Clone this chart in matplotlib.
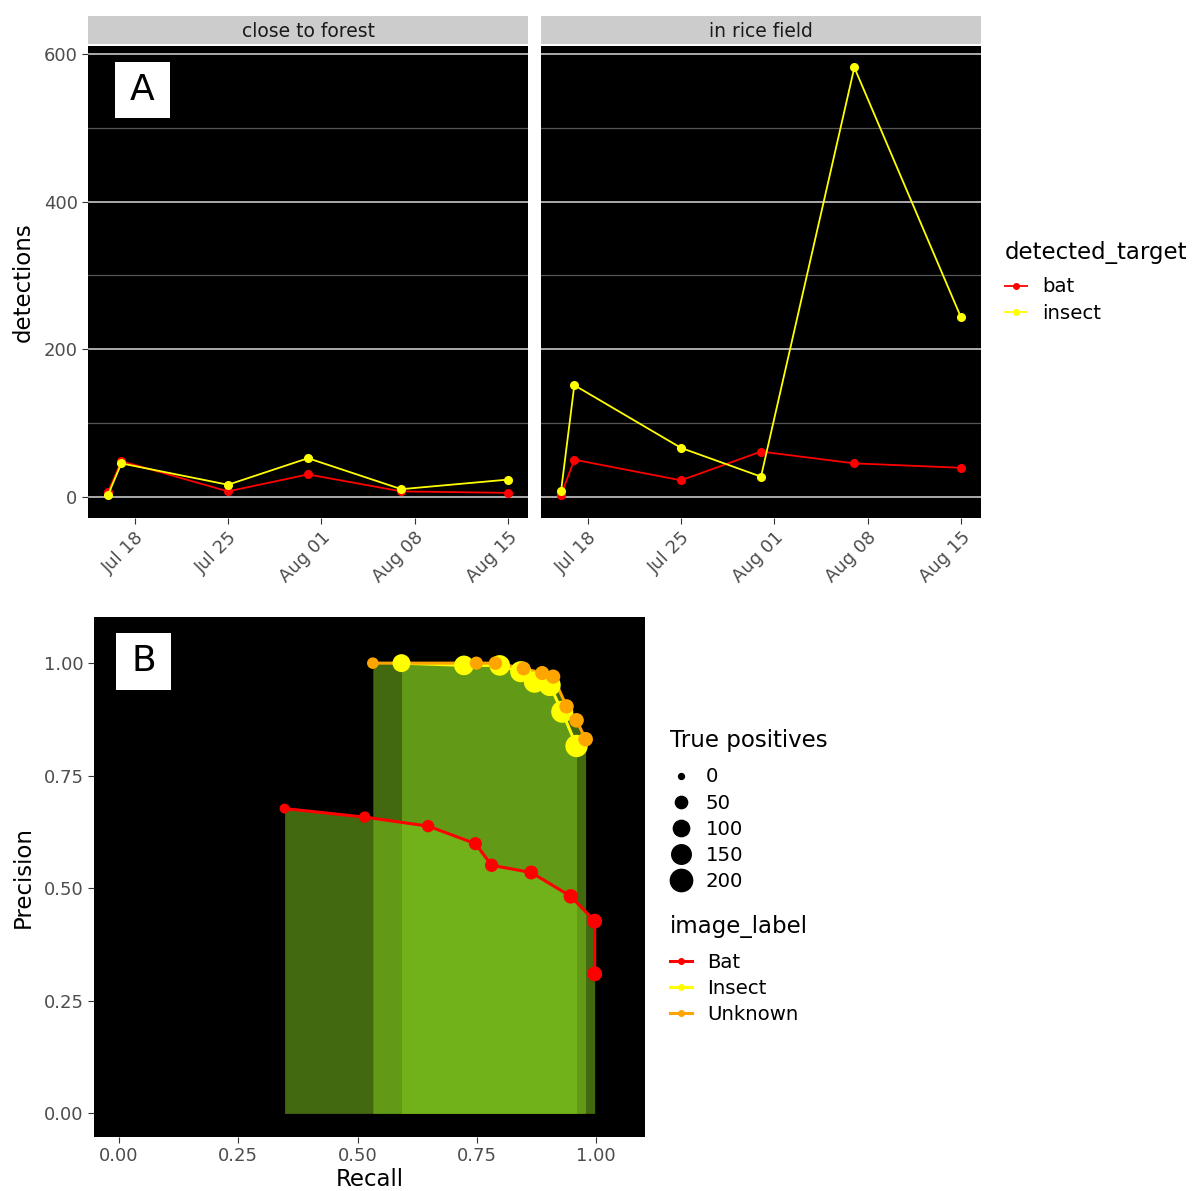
import numpy as np
import pandas as pd
import matplotlib
matplotlib.use('Agg')
import matplotlib.pyplot as plt
import matplotlib.dates as mdates
from matplotlib.lines import Line2D
from matplotlib.patches import Rectangle

# ---- panel A data ----
dates = pd.to_datetime(['2022-07-16', '2022-07-17', '2022-07-25',
                        '2022-07-31', '2022-08-07', '2022-08-15'])
facets = ['close to forest', 'in rice field']
forest_bat = [6, 48, 7, 30, 7, 5]
forest_insect = [2, 45, 16, 52, 10, 23]
rice_bat = [2, 50, 22, 61, 45, 39]
rice_insect = [7, 151, 66, 27, 582, 243]

# ---- panel B data ----
bat_recall = [0.347, 0.515, 0.648, 0.747, 0.781, 0.864, 0.947, 0.997, 0.997]
bat_prec = [0.677, 0.658, 0.638, 0.599, 0.551, 0.535, 0.482, 0.427, 0.310]
bat_tp = [28, 41, 52, 60, 62, 69, 76, 80, 80]

insect_recall = [0.592, 0.723, 0.798, 0.842, 0.871, 0.903, 0.929, 0.959]
insect_prec = [1.0, 0.995, 0.995, 0.981, 0.958, 0.951, 0.892, 0.816]
insect_tp = [124, 152, 168, 177, 183, 190, 195, 201]

unk_recall = [0.532, 0.749, 0.789, 0.848, 0.887, 0.910, 0.938, 0.959, 0.978]
unk_prec = [1.0, 1.0, 1.0, 0.988, 0.978, 0.970, 0.904, 0.873, 0.831]
unk_tp = [43, 60, 63, 68, 71, 73, 75, 77, 78]

size_breaks = [0, 50, 100, 150, 200]

W, H = 1195, 1191
fig = plt.figure(figsize=(W / 100, H / 100), dpi=100)

def box(x0, y0, x1, y1):
    # pixel box -> figure fraction rect
    return [x0 / W, 1 - y1 / H, (x1 - x0) / W, (y1 - y0) / H]

def size_of(tp):
    return 18 + 1.2 * np.asarray(tp)

tick_col = '#4D4D4D'
tick_fs = 13
title_fs = 16.5
leg_fs = 14.2

def legend_at(handles, labels, title, x, y_title, y_first, hl, htp):
    fig.text(x / W, 1 - y_title / H, title, fontsize=title_fs, ha='left', va='center')
    # first entry centre ~ y_first; legend top edge sits half a row above
    return fig.legend(handles=handles, labels=labels, loc='upper left',
                      bbox_to_anchor=(x / W, 1 - (y_first - 8.5) / H),
                      frameon=False, fontsize=leg_fs, handlelength=hl,
                      handletextpad=htp, labelspacing=0.36, borderpad=0,
                      borderaxespad=0)

# ---------- panel A ----------
series_A = [(forest_bat, forest_insect), (rice_bat, rice_insect)]
xpos = [(88, 528), (541, 981)]
axesA = []
for i, (name, (b, ins)) in enumerate(zip(facets, series_A)):
    x0, x1 = xpos[i]
    ax = fig.add_axes(box(x0, 46, x1, 518))
    strip = fig.add_axes(box(x0, 16, x1, 44))
    strip.set_facecolor('#CCCCCC')
    strip.set_xticks([]); strip.set_yticks([])
    for s in strip.spines.values():
        s.set_visible(False)
    strip.text(0.5, 0.45, name, ha='center', va='center', fontsize=13.5,
               color='#1A1A1A', transform=strip.transAxes)

    ax.set_facecolor('black')
    ax.set_yticks([0, 200, 400, 600])
    ax.set_yticks([100, 300, 500], minor=True)
    ax.grid(True, which='major', axis='y', color='#D9D9D9', lw=1.1)
    ax.grid(True, which='minor', axis='y', color='#555555', lw=0.9)
    ax.set_axisbelow(True)
    ax.plot(dates, b, color='red', lw=1.3, marker='o', ms=5.5)
    ax.plot(dates, ins, color='#FFFF00', lw=1.3, marker='o', ms=5.5)
    ax.set_ylim(-29.1, 611.1)
    ax.set_xlim(dates[0] - pd.Timedelta(days=1.5), dates[-1] + pd.Timedelta(days=1.5))
    ax.set_xticks(pd.to_datetime(['2022-07-18', '2022-07-25', '2022-08-01',
                                  '2022-08-08', '2022-08-15']))
    ax.xaxis.set_major_formatter(mdates.DateFormatter('%b %d'))
    ax.tick_params(axis='x', labelrotation=45, labelsize=tick_fs, colors='#333333',
                   labelcolor=tick_col, length=4)
    for lab in ax.get_xticklabels():
        lab.set_ha('right')
        lab.set_rotation_mode('anchor')
    ax.tick_params(axis='y', which='major', labelsize=tick_fs, colors='#333333',
                   labelcolor=tick_col, length=4)
    ax.tick_params(axis='y', which='minor', length=0)
    if i == 1:
        ax.tick_params(axis='y', which='major', labelleft=False, length=0)
    for s in ax.spines.values():
        s.set_visible(False)
    axesA.append(ax)

axA = axesA[0]
axA.set_ylabel('detections', fontsize=title_fs, color='black', labelpad=6)
axA.add_patch(Rectangle((0.061, 0.847), 0.125, 0.119, transform=axA.transAxes,
                        facecolor='white', edgecolor='none', zorder=5))
axA.text(0.1235, 0.906, 'A', transform=axA.transAxes, ha='center', va='center',
         fontsize=26, color='black', zorder=6)

legend_at([Line2D([0], [0], color='red', lw=1.3, marker='o', ms=4),
           Line2D([0], [0], color='#FFFF00', lw=1.3, marker='o', ms=4)],
          ['bat', 'insect'], 'detected_target', 1005, 252, 286, 1.1, 0.8)

# ---------- panel B ----------
axB = fig.add_axes(box(94, 617, 645, 1137))
axB.set_facecolor('black')
green = (0.50, 0.79, 0.12)
for r, p in [(bat_recall, bat_prec), (unk_recall, unk_prec), (insect_recall, insect_prec)]:
    axB.fill_between(r, p, 0, color=green, alpha=0.52, lw=0)

for r, p, tp, col in [(bat_recall, bat_prec, bat_tp, 'red'),
                      (insect_recall, insect_prec, insect_tp, '#FFFF00'),
                      (unk_recall, unk_prec, unk_tp, '#FFA500')]:
    axB.plot(r, p, color=col, lw=2.2, zorder=3)
    axB.scatter(r, p, s=size_of(tp), color=col, zorder=4, linewidths=0)

axB.set_xlim(-0.0525, 1.1025)
axB.set_ylim(-0.0525, 1.1025)
ticks = [0, 0.25, 0.5, 0.75, 1.0]
axB.set_xticks(ticks)
axB.set_yticks(ticks)
axB.set_xticklabels(['%.2f' % t for t in ticks])
axB.set_yticklabels(['%.2f' % t for t in ticks])
axB.tick_params(labelsize=tick_fs, colors='#333333', labelcolor=tick_col, length=4)
for s in axB.spines.values():
    s.set_visible(False)
axB.set_xlabel('Recall', fontsize=title_fs, labelpad=2)
axB.set_ylabel('Precision', fontsize=title_fs, labelpad=6)
axB.add_patch(Rectangle((0.040, 0.860), 0.0998, 0.110, transform=axB.transAxes,
                        facecolor='white', edgecolor='none', zorder=5))
axB.text(0.0899, 0.915, 'B', transform=axB.transAxes, ha='center', va='center',
         fontsize=26, color='black', zorder=6)

size_handles = [Line2D([0], [0], ls='none', marker='o', color='black',
                       ms=np.sqrt(size_of(v))) for v in size_breaks]
legend_at(size_handles, [str(v) for v in size_breaks], 'True positives',
          670, 741, 776, 1.1, 0.7)

legend_at([Line2D([0], [0], color=c, lw=2.2, marker='o', ms=4)
           for c in ['red', '#FFFF00', '#FFA500']],
          ['Bat', 'Insect', 'Unknown'], 'image_label', 670, 926, 961, 1.1, 0.8)

fig.savefig('out.png', dpi=100)
